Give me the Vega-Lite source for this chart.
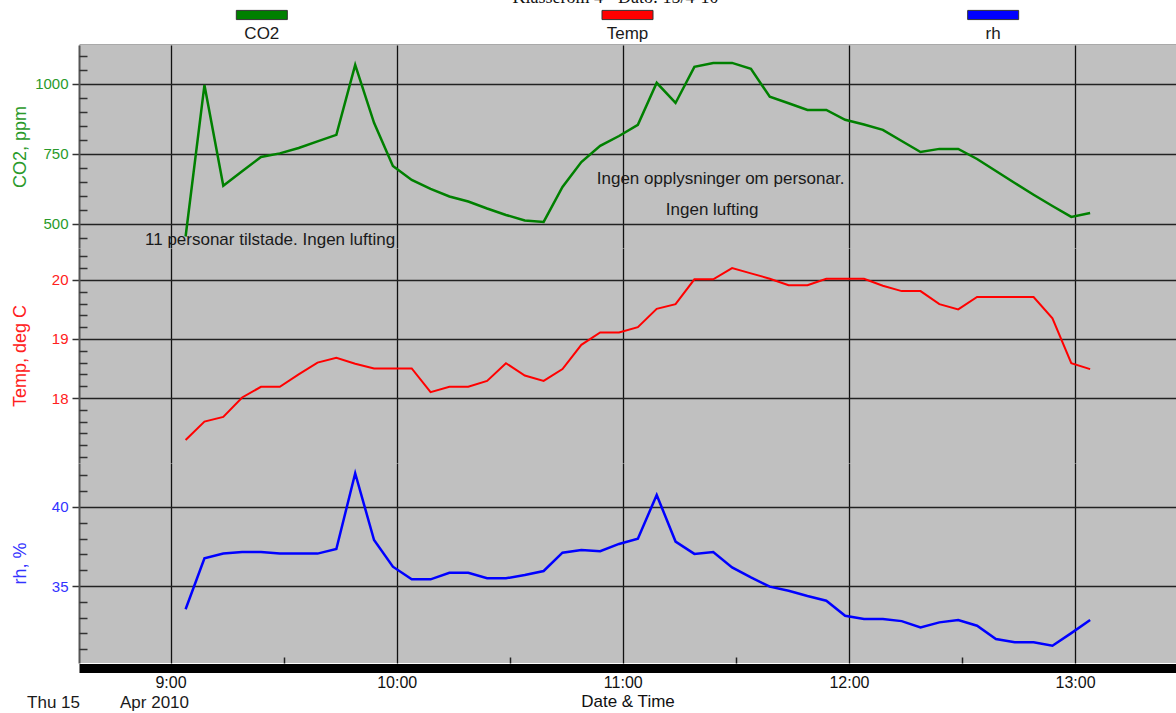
{
  "$schema": "https://vega.github.io/schema/vega-lite/v6.json",
  "background": "white",
  "padding": {"left": 11, "top": 0, "right": 0, "bottom": 0},
  "config": {
    "font": "Liberation Sans",
    "view": {"stroke": null},
    "axis": {"labelFont": "Liberation Sans", "titleFont": "Liberation Sans"}
  },
  "spacing": 0,
  "bounds": "flush",
  "datasets": {
    "legend": [{"name": "CO2"}, {"name": "Temp"}, {"name": "rh"}],
    "notes": [
      {"t": "2010-04-15T08:53:14", "co2": 443, "label": "11 personar tilstade. Ingen lufting"},
      {"t": "2010-04-15T10:53:06", "co2": 660, "label": "Ingen opplysninger om personar."},
      {"t": "2010-04-15T11:11:25", "co2": 550, "label": "Ingen lufting"}
    ],
    "datelabels": [
      {"t": "2010-04-15T08:21:56", "rh": 27.6, "label": "Thu 15"},
      {"t": "2010-04-15T08:46:36", "rh": 27.6, "label": "Apr 2010"}
    ],
    "series": [
      {"t": "2010-04-15T09:04", "co2": 455, "temp": 17.29, "rh": 33.53},
      {"t": "2010-04-15T09:09", "co2": 996, "temp": 17.60, "rh": 36.75},
      {"t": "2010-04-15T09:14", "co2": 636, "temp": 17.68, "rh": 37.05},
      {"t": "2010-04-15T09:19", "co2": 688, "temp": 18.01, "rh": 37.15},
      {"t": "2010-04-15T09:24", "co2": 739, "temp": 18.19, "rh": 37.15},
      {"t": "2010-04-15T09:29", "co2": 752, "temp": 18.19, "rh": 37.05},
      {"t": "2010-04-15T09:34", "co2": 771, "temp": 18.40, "rh": 37.05},
      {"t": "2010-04-15T09:39", "co2": 795, "temp": 18.60, "rh": 37.05},
      {"t": "2010-04-15T09:44", "co2": 818, "temp": 18.68, "rh": 37.34},
      {"t": "2010-04-15T09:49", "co2": 1068, "temp": 18.58, "rh": 42.13},
      {"t": "2010-04-15T09:54", "co2": 861, "temp": 18.50, "rh": 37.91},
      {"t": "2010-04-15T09:59", "co2": 707, "temp": 18.50, "rh": 36.22},
      {"t": "2010-04-15T10:04", "co2": 657, "temp": 18.50, "rh": 35.42},
      {"t": "2010-04-15T10:09", "co2": 625, "temp": 18.10, "rh": 35.42},
      {"t": "2010-04-15T10:14", "co2": 598, "temp": 18.19, "rh": 35.84},
      {"t": "2010-04-15T10:19", "co2": 580, "temp": 18.19, "rh": 35.84},
      {"t": "2010-04-15T10:24", "co2": 555, "temp": 18.29, "rh": 35.49},
      {"t": "2010-04-15T10:29", "co2": 532, "temp": 18.59, "rh": 35.49},
      {"t": "2010-04-15T10:34", "co2": 512, "temp": 18.38, "rh": 35.70},
      {"t": "2010-04-15T10:39", "co2": 507, "temp": 18.29, "rh": 35.95},
      {"t": "2010-04-15T10:44", "co2": 632, "temp": 18.49, "rh": 37.11},
      {"t": "2010-04-15T10:49", "co2": 721, "temp": 18.90, "rh": 37.28},
      {"t": "2010-04-15T10:54", "co2": 779, "temp": 19.11, "rh": 37.20},
      {"t": "2010-04-15T10:59", "co2": 814, "temp": 19.11, "rh": 37.66},
      {"t": "2010-04-15T11:04", "co2": 854, "temp": 19.20, "rh": 37.99},
      {"t": "2010-04-15T11:09", "co2": 1004, "temp": 19.51, "rh": 40.76},
      {"t": "2010-04-15T11:14", "co2": 932, "temp": 19.59, "rh": 37.81},
      {"t": "2010-04-15T11:19", "co2": 1061, "temp": 20.01, "rh": 37.03},
      {"t": "2010-04-15T11:24", "co2": 1075, "temp": 20.01, "rh": 37.15},
      {"t": "2010-04-15T11:29", "co2": 1075, "temp": 20.20, "rh": 36.18},
      {"t": "2010-04-15T11:34", "co2": 1054, "temp": 20.11, "rh": 35.55},
      {"t": "2010-04-15T11:39", "co2": 954, "temp": 20.02, "rh": 34.96},
      {"t": "2010-04-15T11:44", "co2": 931, "temp": 19.91, "rh": 34.70},
      {"t": "2010-04-15T11:49", "co2": 907, "temp": 19.91, "rh": 34.37},
      {"t": "2010-04-15T11:54", "co2": 907, "temp": 20.02, "rh": 34.07},
      {"t": "2010-04-15T11:59", "co2": 872, "temp": 20.02, "rh": 33.12},
      {"t": "2010-04-15T12:04", "co2": 855, "temp": 20.02, "rh": 32.91},
      {"t": "2010-04-15T12:09", "co2": 836, "temp": 19.90, "rh": 32.91},
      {"t": "2010-04-15T12:14", "co2": 796, "temp": 19.81, "rh": 32.78},
      {"t": "2010-04-15T12:19", "co2": 757, "temp": 19.81, "rh": 32.38},
      {"t": "2010-04-15T12:24", "co2": 768, "temp": 19.59, "rh": 32.70},
      {"t": "2010-04-15T12:29", "co2": 768, "temp": 19.50, "rh": 32.85},
      {"t": "2010-04-15T12:34", "co2": 732, "temp": 19.71, "rh": 32.49},
      {"t": "2010-04-15T12:39", "co2": 689, "temp": 19.71, "rh": 31.65},
      {"t": "2010-04-15T12:44", "co2": 646, "temp": 19.71, "rh": 31.44},
      {"t": "2010-04-15T12:49", "co2": 604, "temp": 19.71, "rh": 31.44},
      {"t": "2010-04-15T12:54", "co2": 564, "temp": 19.35, "rh": 31.22},
      {"t": "2010-04-15T12:59", "co2": 525, "temp": 18.59, "rh": 32.02},
      {"t": "2010-04-15T13:04", "co2": 539, "temp": 18.49, "rh": 32.85}
    ]
  },
  "vconcat": [
    {
      "width": 1097,
      "height": 45,
      "view": {"fill": "white", "stroke": null},
      "layer": [
        {
          "data": {"name": "legend"},
          "mark": {"type": "point", "shape": "M-1,-0.18H1V0.18H-1Z", "filled": true, "size": 2601, "stroke": "#333333", "strokeWidth": 1, "opacity": 1},
          "encoding": {
            "x": {"field": "name", "type": "nominal", "sort": null, "scale": {"type": "band", "domain": ["CO2", "Temp", "rh"], "paddingInner": 0, "paddingOuter": 0},
              "axis": {"orient": "bottom", "labels": false, "ticks": false, "title": null, "grid": false, "domain": true, "domainColor": "#555555", "domainWidth": 2}},
            "y": {"datum": "sym", "type": "nominal", "scale": {"type": "point", "domain": ["sym", "lab"], "padding": 0.654, "align": 0.588}, "axis": null},
            "color": {"field": "name", "type": "nominal", "scale": {"domain": ["CO2", "Temp", "rh"], "range": ["#008000", "#ff0000", "#0000ff"]}, "legend": null}
          }
        },
        {
          "data": {"name": "legend"},
          "mark": {"type": "text", "fontSize": 17, "color": "#1a1a1a"},
          "encoding": {
            "x": {"field": "name", "type": "nominal", "sort": null},
            "y": {"datum": "lab", "type": "nominal"},
            "text": {"field": "name"}
          }
        },
        {
          "data": {"values": [{"title": "Klasserom 4 - Dato: 15/4-10"}]},
          "mark": {"type": "text", "fontSize": 18, "font": "Liberation Serif", "color": "#111111", "clip": true, "baseline": "alphabetic", "dy": -12, "dx": -12},
          "encoding": {
            "x": {"datum": "Temp", "type": "nominal"},
            "y": {"datum": "sym", "type": "nominal"},
            "text": {"field": "title"}
          }
        }
      ]
    },
    {
      "width": 1097,
      "height": 203,
      "view": {"fill": "#c0c0c0", "stroke": null},
      "layer": [
        {
          "data": {"name": "series"},
          "mark": {"type": "line", "color": "#008000", "strokeWidth": 2.5},
          "encoding": {
            "x": {"field": "t", "type": "temporal",
              "scale": {"domain": [{"year": 2010, "month": 4, "date": 15, "hours": 8, "minutes": 35, "seconds": 43}, {"year": 2010, "month": 4, "date": 15, "hours": 13, "minutes": 26, "seconds": 47}]},
              "axis": {"values": [{"year": 2010, "month": 4, "date": 15, "hours": 9}, {"year": 2010, "month": 4, "date": 15, "hours": 10}, {"year": 2010, "month": 4, "date": 15, "hours": 11}, {"year": 2010, "month": 4, "date": 15, "hours": 12}, {"year": 2010, "month": 4, "date": 15, "hours": 13}],
                "grid": true, "gridColor": "#111111", "gridWidth": 1.3, "labels": false, "ticks": false, "domain": false, "title": null}},
            "y": {"field": "co2", "type": "quantitative", "scale": {"domain": [414, 1139], "nice": false, "zero": false},
              "axis": {"orient": "left", "values": [500, 750, 1000], "format": "d", "grid": true, "gridColor": "#222222", "gridWidth": 1.5,
                "tickSize": 7, "tickColor": "#333333", "tickWidth": 1.5, "domain": true, "domainColor": "#555555", "domainWidth": 2,
                "labelFontSize": 15, "labelColor": "#2a9a2a", "labelPadding": 4,
                "title": "CO2, ppm", "titleFontSize": 18, "titleFontWeight": "normal", "titleColor": "#2a9a2a", "titlePadding": 5,
                "minExtent": 45, "maxExtent": 45}}
          }
        },
        {
          "data": {"name": "series"},
          "mark": {"type": "line", "strokeOpacity": 0},
          "encoding": {
            "x": {"field": "t", "type": "temporal", "axis": null},
            "y": {"field": "co2", "type": "quantitative",
              "axis": {"orient": "left", "values": [450, 550, 600, 650, 700, 800, 850, 900, 950, 1050, 1100], "labels": false, "domain": false, "grid": false, "ticks": true, "tickSize": -8, "tickColor": "#333333", "tickWidth": 1.5, "title": null}}
          }
        },
        {
          "data": {"name": "notes"},
          "mark": {"type": "text", "align": "left", "fontSize": 17, "color": "#1a1a1a"},
          "encoding": {
            "x": {"field": "t", "type": "temporal", "axis": null},
            "y": {"field": "co2", "type": "quantitative", "axis": null},
            "text": {"field": "label"}
          }
        }
      ],
      "resolve": {"axis": {"x": "independent", "y": "independent"}}
    },
    {
      "width": 1097,
      "height": 215,
      "view": {"fill": "#c0c0c0", "stroke": null},
      "data": {"name": "series"},
      "layer": [
        {
          "mark": {"type": "line", "color": "#ff0000", "strokeWidth": 2},
          "encoding": {
            "x": {"field": "t", "type": "temporal",
              "scale": {"domain": [{"year": 2010, "month": 4, "date": 15, "hours": 8, "minutes": 35, "seconds": 43}, {"year": 2010, "month": 4, "date": 15, "hours": 13, "minutes": 26, "seconds": 47}]},
              "axis": {"values": [{"year": 2010, "month": 4, "date": 15, "hours": 9}, {"year": 2010, "month": 4, "date": 15, "hours": 10}, {"year": 2010, "month": 4, "date": 15, "hours": 11}, {"year": 2010, "month": 4, "date": 15, "hours": 12}, {"year": 2010, "month": 4, "date": 15, "hours": 13}],
                "grid": true, "gridColor": "#111111", "gridWidth": 1.3, "labels": false, "ticks": false, "domain": false, "title": null}},
            "y": {"field": "temp", "type": "quantitative", "scale": {"domain": [16.9, 20.54], "nice": false, "zero": false},
              "axis": {"orient": "left", "values": [18, 19, 20], "format": "d", "grid": true, "gridColor": "#222222", "gridWidth": 1.5,
                "tickSize": 7, "tickColor": "#333333", "tickWidth": 1.5, "domain": true, "domainColor": "#555555", "domainWidth": 2,
                "labelFontSize": 15, "labelColor": "#ff2020", "labelPadding": 4,
                "title": "Temp, deg C", "titleFontSize": 18, "titleFontWeight": "normal", "titleColor": "#ff2020", "titlePadding": 5,
                "minExtent": 45, "maxExtent": 45}}
          }
        },
        {
          "mark": {"type": "line", "strokeOpacity": 0},
          "encoding": {
            "x": {"field": "t", "type": "temporal", "axis": null},
            "y": {"field": "temp", "type": "quantitative",
              "axis": {"orient": "left", "values": [17.0, 17.2, 17.4, 17.6, 17.8, 18.2, 18.4, 18.6, 18.8, 19.2, 19.4, 19.6, 19.8, 20.2, 20.4], "labels": false, "domain": false, "grid": false, "ticks": true, "tickSize": -8, "tickColor": "#333333", "tickWidth": 1.5, "title": null}}
          }
        }
      ],
      "resolve": {"axis": {"x": "independent", "y": "independent"}}
    },
    {
      "width": 1097,
      "height": 200,
      "view": {"fill": "#c0c0c0", "stroke": null},
      "layer": [
        {
          "data": {"name": "series"},
          "mark": {"type": "line", "color": "#0000ff", "strokeWidth": 2.5},
          "encoding": {
            "x": {"field": "t", "type": "temporal",
              "scale": {"domain": [{"year": 2010, "month": 4, "date": 15, "hours": 8, "minutes": 35, "seconds": 43}, {"year": 2010, "month": 4, "date": 15, "hours": 13, "minutes": 26, "seconds": 47}]},
              "axis": {"orient": "bottom", "values": [{"year": 2010, "month": 4, "date": 15, "hours": 9}, {"year": 2010, "month": 4, "date": 15, "hours": 10}, {"year": 2010, "month": 4, "date": 15, "hours": 11}, {"year": 2010, "month": 4, "date": 15, "hours": 12}, {"year": 2010, "month": 4, "date": 15, "hours": 13}],
                "format": "%-H:%M", "grid": true, "gridColor": "#111111", "gridWidth": 1.3,
                "labels": true, "labelFontSize": 16, "labelColor": "#111111", "labelPadding": 6, "labelFlush": false,
                "ticks": false, "domain": true, "domainColor": "#000000", "domainWidth": 9, "offset": 5,
                "title": "Date & Time", "titleFontSize": 17, "titleFontWeight": "normal", "titleColor": "#111111", "titlePadding": 3}},
            "y": {"field": "rh", "type": "quantitative", "scale": {"domain": [30.13, 42.78], "nice": false, "zero": false},
              "axis": {"orient": "left", "values": [35, 40], "format": "d", "grid": true, "gridColor": "#222222", "gridWidth": 1.5,
                "tickSize": 7, "tickColor": "#333333", "tickWidth": 1.5, "domain": true, "domainColor": "#555555", "domainWidth": 2,
                "labelFontSize": 15, "labelColor": "#3333ff", "labelPadding": 4,
                "title": "rh, %", "titleFontSize": 18, "titleFontWeight": "normal", "titleColor": "#3333ff", "titlePadding": 5,
                "minExtent": 45, "maxExtent": 45}}
          }
        },
        {
          "data": {"name": "series"},
          "mark": {"type": "line", "strokeOpacity": 0},
          "encoding": {
            "x": {"field": "t", "type": "temporal",
              "axis": {"orient": "bottom", "values": [{"year": 2010, "month": 4, "date": 15, "hours": 9, "minutes": 30}, {"year": 2010, "month": 4, "date": 15, "hours": 10, "minutes": 30}, {"year": 2010, "month": 4, "date": 15, "hours": 11, "minutes": 30}, {"year": 2010, "month": 4, "date": 15, "hours": 12, "minutes": 30}],
                "labels": false, "domain": false, "grid": false, "ticks": true, "tickSize": -6, "tickColor": "#222222", "tickWidth": 1.5, "title": null}},
            "y": {"field": "rh", "type": "quantitative",
              "axis": {"orient": "left", "values": [31, 32, 33, 34, 36, 37, 38, 39, 41, 42], "labels": false, "domain": false, "grid": false, "ticks": true, "tickSize": -8, "tickColor": "#333333", "tickWidth": 1.5, "title": null}}
          }
        },
        {
          "data": {"name": "datelabels"},
          "mark": {"type": "text", "align": "left", "fontSize": 17, "color": "#1a1a1a"},
          "encoding": {
            "x": {"field": "t", "type": "temporal", "axis": null},
            "y": {"field": "rh", "type": "quantitative", "axis": null},
            "text": {"field": "label"}
          }
        }
      ],
      "resolve": {"axis": {"x": "independent", "y": "independent"}}
    }
  ]
}
